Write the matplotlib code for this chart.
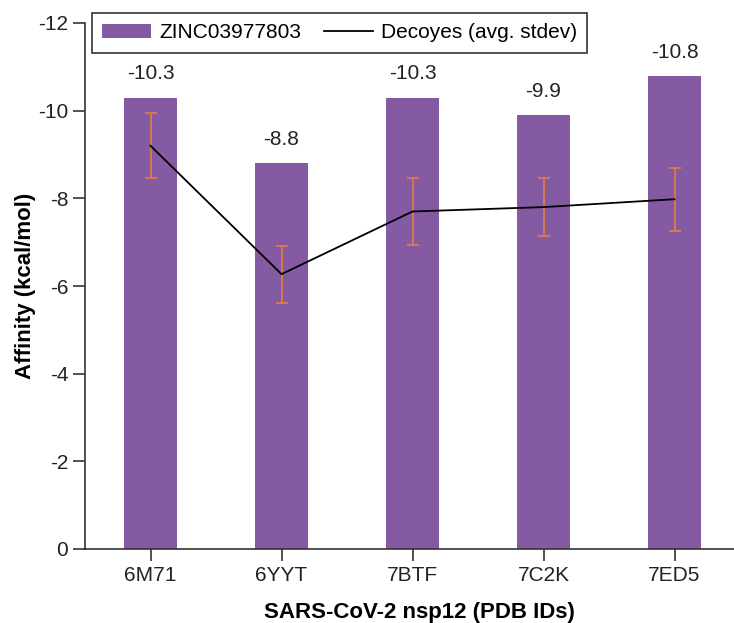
import numpy as np
import matplotlib.pyplot as plt

plt.rcParams['font.family'] = ['Liberation Sans', 'DejaVu Sans']
plt.rcParams['axes.unicode_minus'] = False

#%% Data
pdb_ids = ['6M71', '6YYT', '7BTF', '7C2K', '7ED5']
zinc_affinity = [-10.3, -8.8, -10.3, -9.9, -10.8]
decoy_mean = [-9.2, -6.27, -7.7, -7.8, -7.98]
decoy_std = [0.74, 0.65, 0.77, 0.67, 0.72]

#%% Plot
fig = plt.figure(figsize=(7.34, 6.23), dpi=100)
ax = fig.add_axes([85/734, 74/623, 655/734, 526/623])

x = np.arange(len(pdb_ids))
bars = ax.bar(x, zinc_affinity, width=0.41, color='#845BA3', label='ZINC03977803', zorder=1)
ax.errorbar(x, decoy_mean, yerr=decoy_std, fmt='none', ecolor='#DE7B45',
            elinewidth=1.3, capsize=4.5, capthick=1.3, zorder=2)
line, = ax.plot(x, decoy_mean, color='black', lw=1.3, label='Decoyes (avg. stdev)', zorder=3)

for xi, v in zip(x, zinc_affinity):
    ax.annotate(f'{v:.1f}', (xi, v), xytext=(0, 13), textcoords='offset points',
                ha='center', va='baseline', fontsize=15, color='#222222')

ax.set_xlim(-0.5, 4.5)
ax.set_ylim(0, -12)
ax.set_yticks([0, -2, -4, -6, -8, -10, -12])
ax.set_xticks(x)
ax.set_xticklabels(pdb_ids)
ax.tick_params(labelsize=15, length=8.5, width=1.2, color='#333333', labelcolor='#222222')
for s in ['top', 'right']:
    ax.spines[s].set_visible(False)
for s in ['left', 'bottom']:
    ax.spines[s].set_linewidth(1.2)
    ax.spines[s].set_color('#333333')

ax.set_xlabel('SARS-CoV-2 nsp12 (PDB IDs)', fontsize=16, fontweight='bold', va='top')
ax.set_ylabel('Affinity (kcal/mol)', fontsize=16, fontweight='bold')
ax.xaxis.set_label_coords(0.511, -0.1)
ax.yaxis.set_label_coords(-0.0745, 0.5)

leg = ax.legend([bars, line], ['ZINC03977803', 'Decoyes (avg. stdev)'],
                loc='upper left', bbox_to_anchor=(92/734, 1 - 13/623),
                bbox_transform=fig.transFigure, ncol=2, fontsize=15, frameon=True,
                fancybox=False, edgecolor='black', handlelength=2.35, handleheight=0.7,
                columnspacing=1.05, borderpad=0.5, handletextpad=0.4, borderaxespad=0)
leg.get_frame().set_linewidth(1.2)

fig.savefig('out.png', dpi=100)
